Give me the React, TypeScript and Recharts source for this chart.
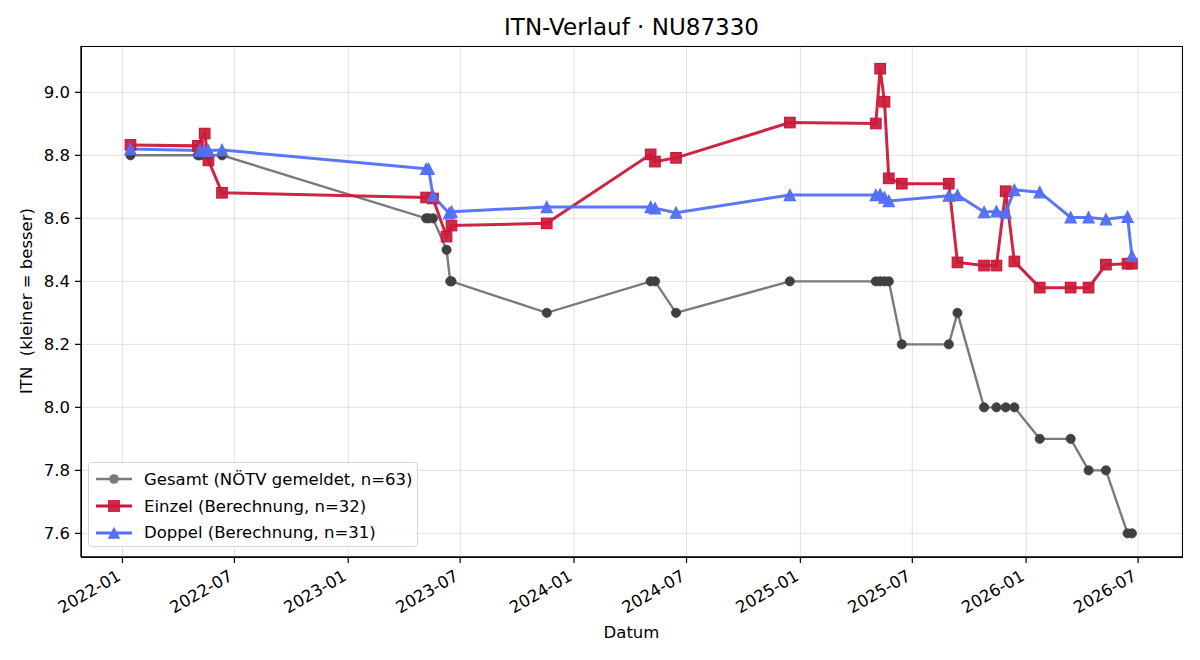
import React from 'react';
import { LineChart, Line, XAxis, YAxis, CartesianGrid } from 'recharts';

const FONT = '"DejaVu Sans", "Liberation Sans", sans-serif';

const gesamtDates = [
  '2022-01-14', '2022-05-03', '2022-05-06', '2022-05-14', '2022-05-20', '2022-06-11',
  '2023-05-07', '2023-05-11', '2023-05-18', '2023-06-09', '2023-06-15', '2023-06-17',
  '2023-11-18', '2024-05-04', '2024-05-11', '2024-06-14', '2024-12-15',
  '2025-05-03', '2025-05-10', '2025-05-17', '2025-05-24', '2025-06-14', '2025-08-29',
  '2025-09-12', '2025-10-25', '2025-11-14', '2025-11-29', '2025-12-13',
  '2026-01-23', '2026-03-14', '2026-04-12', '2026-05-10', '2026-06-14', '2026-06-21',
];
const gesamtValues = [
  8.8, 8.8, 8.8, 8.8, 8.8, 8.8,
  8.6, 8.6, 8.6, 8.5, 8.4, 8.4,
  8.3, 8.4, 8.4, 8.3, 8.4,
  8.4, 8.4, 8.4, 8.4, 8.2, 8.2,
  8.3, 8.0, 8.0, 8.0, 8.0,
  7.9, 7.9, 7.8, 7.8, 7.6, 7.6,
];

const einzelDates = [
  '2022-01-14', '2022-05-03', '2022-05-14', '2022-05-20', '2022-06-11',
  '2023-05-07', '2023-05-18', '2023-06-09', '2023-06-17', '2023-11-18',
  '2024-05-04', '2024-05-11', '2024-06-14', '2024-12-15',
  '2025-05-03', '2025-05-10', '2025-05-17', '2025-05-24', '2025-06-14', '2025-08-29',
  '2025-09-12', '2025-10-25', '2025-11-14', '2025-11-29', '2025-12-13',
  '2026-01-23', '2026-03-14', '2026-04-12', '2026-05-10', '2026-06-14', '2026-06-21',
];
const einzelValues = [
  8.833, 8.830, 8.869, 8.784, 8.681,
  8.666, 8.663, 8.542, 8.577, 8.584,
  8.803, 8.780, 8.792, 8.904,
  8.901, 9.075, 8.970, 8.727, 8.710, 8.710,
  8.460, 8.450, 8.450, 8.686, 8.463,
  8.380, 8.380, 8.380, 8.453, 8.456, 8.456,
];

const doppelDates = [
  '2022-01-14', '2022-05-06', '2022-05-14', '2022-05-20', '2022-06-11',
  '2023-05-07', '2023-05-11', '2023-05-18', '2023-06-13', '2023-06-17', '2023-11-18',
  '2024-05-04', '2024-05-11', '2024-06-14', '2024-12-15',
  '2025-05-03', '2025-05-10', '2025-05-17', '2025-05-24', '2025-08-29',
  '2025-09-12', '2025-10-25', '2025-11-14', '2025-11-29', '2025-12-13',
  '2026-01-23', '2026-03-14', '2026-04-12', '2026-05-10', '2026-06-14', '2026-06-21',
];
const doppelValues = [
  8.820, 8.815, 8.815, 8.815, 8.817,
  8.757, 8.757, 8.672, 8.616, 8.621, 8.636,
  8.636, 8.632, 8.618, 8.674,
  8.674, 8.676, 8.666, 8.655, 8.672,
  8.674, 8.620, 8.622, 8.618, 8.690,
  8.683, 8.603, 8.603, 8.597, 8.605, 8.481,
];

const xTickLabels = ['2022-01', '2022-07', '2023-01', '2023-07', '2024-01', '2024-07', '2025-01', '2025-07', '2026-01', '2026-07'];
const yTicks = [7.6, 7.8, 8.0, 8.2, 8.4, 8.6, 8.8, 9.0];
const xDomainDates = ['2021-10-26', '2026-09-10'];
const yDomain = [7.525, 9.147];

const seriesNames = ['Gesamt (NÖTV gemeldet, n=63)', 'Einzel (Berechnung, n=32)', 'Doppel (Berechnung, n=31)'];
const GRAY_LINE = '#7a7a7a';
const GRAY_DOT = '#404040';
const RED = '#c91a3a';
const BLUE = '#5270f4';

const toTs = (d: string) => Date.parse((d.length === 7 ? d + '-01' : d) + 'T00:00:00Z');
const build = (dates: string[], values: number[]) => dates.map((d, i) => ({ t: toTs(d), v: values[i] }));

const gesamtData = build(gesamtDates, gesamtValues);
const einzelData = build(einzelDates, einzelValues);
const doppelData = build(doppelDates, doppelValues);
const xTicks = xTickLabels.map(toTs);
const xDomain = xDomainDates.map(toTs);

const fmtMonth = (ts: number) => {
  const d = new Date(ts);
  return `${d.getUTCFullYear()}-${String(d.getUTCMonth() + 1).padStart(2, '0')}`;
};

const CircleDot = (props: any) => {
  const { cx, cy, index } = props;
  if (cx == null || cy == null) return <g key={`c${index}`} />;
  return <circle key={`c${index}`} cx={cx} cy={cy} r={4.6} fill={GRAY_DOT} stroke={GRAY_DOT} strokeWidth={0.8} />;
};
const SquareDot = (props: any) => {
  const { cx, cy, index } = props;
  if (cx == null || cy == null) return <g key={`s${index}`} />;
  const s = 10.5;
  return <rect key={`s${index}`} x={cx - s / 2} y={cy - s / 2} width={s} height={s} fill={RED} fillOpacity={0.92} stroke={RED} strokeWidth={1.2} />;
};
const TriDot = (props: any) => {
  const { cx, cy, index } = props;
  if (cx == null || cy == null) return <g key={`t${index}`} />;
  const s = 5.6;
  return <polygon key={`t${index}`} points={`${cx},${cy - s} ${cx - s},${cy + s} ${cx + s},${cy + s}`} fill={BLUE} fillOpacity={0.95} stroke={BLUE} strokeWidth={1.2} strokeLinejoin="miter" />;
};

const XTick = (props: any) => {
  const { x, y, payload } = props;
  return (
    <g transform={`translate(${x - 7},${y}) rotate(-30)`}>
      <text x={0} y={0} dy="0.78em" textAnchor="end" fill="#000" fontSize={16.5} fontFamily={FONT}>
        {fmtMonth(payload.value)}
      </text>
    </g>
  );
};

const LegendRow = ({ kind, label }: { kind: number; label: string }) => {
  const color = kind === 0 ? GRAY_LINE : kind === 1 ? RED : BLUE;
  return (
    <div style={{ display: 'flex', alignItems: 'center', height: 26.7 }}>
      <svg width={48} height={20} style={{ marginLeft: 6, flex: 'none' }}>
        <line x1={1} y1={10} x2={37} y2={10} stroke={color} strokeWidth={kind === 0 ? 2.4 : 3} />
        {kind === 0 && <circle cx={19} cy={10} r={4.8} fill={GRAY_LINE} />}
        {kind === 1 && <rect x={13} y={4} width={12} height={12} fill={RED} fillOpacity={0.92} />}
        {kind === 2 && <polygon points="19,3.8 12.8,15.8 25.2,15.8" fill={BLUE} />}
      </svg>
      <span style={{ marginLeft: 1, whiteSpace: 'nowrap' }}>{label}</span>
    </div>
  );
};

export default function App() {
  return (
    <div style={{ position: 'absolute', left: 0, top: 0, width: 1200, height: 660, background: '#fff', fontFamily: FONT }}>
      <div style={{ position: 'absolute', left: 81, width: 1101, top: 13, textAlign: 'center', fontSize: 23, lineHeight: '28px', color: '#000' }}>
        ITN-Verlauf · NU87330
      </div>
      <div style={{ position: 'absolute', left: 81, width: 1101, top: 622, textAlign: 'center', fontSize: 16.5, lineHeight: '22px', color: '#000' }}>
        Datum
      </div>
      <div style={{ position: 'absolute', left: 27, top: 301, width: 0, height: 0 }}>
        <div style={{ position: 'absolute', transform: 'translate(-50%,-50%) rotate(-90deg)', whiteSpace: 'pre', fontSize: 16.5, lineHeight: '20px', color: '#000' }}>
          {'ITN  (kleiner = besser)'}
        </div>
      </div>
      <LineChart width={1200} height={660} margin={{ top: 46, right: 18, bottom: 43, left: 21 }} style={{ position: 'absolute', left: 0, top: 0 }}>
        <CartesianGrid stroke="#b8b8b8" strokeOpacity={0.4} strokeWidth={1} />
        <XAxis
          dataKey="t"
          type="number"
          domain={xDomain}
          ticks={xTicks}
          allowDataOverflow
          height={60}
          tickSize={6}
          tickMargin={5}
          tickLine={{ stroke: '#000', strokeWidth: 1.2 }}
          axisLine={{ stroke: '#000', strokeWidth: 1.3 }}
          tick={<XTick />}
          interval={0}
        />
        <YAxis
          type="number"
          domain={yDomain}
          ticks={yTicks}
          allowDataOverflow
          width={60}
          tickSize={6}
          tickMargin={5}
          tickFormatter={(v: number) => v.toFixed(1)}
          tick={{ fill: '#000', fontSize: 16.5, fontFamily: FONT }}
          tickLine={{ stroke: '#000', strokeWidth: 1.2 }}
          axisLine={{ stroke: '#000', strokeWidth: 1.3 }}
          interval={0}
        />
        <Line data={gesamtData} dataKey="v" name={seriesNames[0]} type="linear" stroke={GRAY_LINE} strokeWidth={2.4} dot={CircleDot} activeDot={false} isAnimationActive={false} />
        <Line data={einzelData} dataKey="v" name={seriesNames[1]} type="linear" stroke={RED} strokeOpacity={0.95} strokeWidth={3} dot={SquareDot} activeDot={false} isAnimationActive={false} />
        <Line data={doppelData} dataKey="v" name={seriesNames[2]} type="linear" stroke={BLUE} strokeOpacity={0.95} strokeWidth={3} dot={TriDot} activeDot={false} isAnimationActive={false} />
      </LineChart>
      <div style={{ position: 'absolute', left: 80.5, top: 45.5, width: 1102, height: 512, boxSizing: 'border-box', border: '1.3px solid #000', pointerEvents: 'none' }} />
      <div style={{ position: 'absolute', left: 88, top: 462, width: 330, height: 85, boxSizing: 'border-box', border: '1px solid #d4d4d4', borderRadius: 4, background: 'rgba(255,255,255,0.85)', fontSize: 16.5, color: '#000', paddingTop: 3 }}>
        {seriesNames.map((n, i) => <LegendRow key={n} kind={i} label={n} />)}
      </div>
    </div>
  );
}
